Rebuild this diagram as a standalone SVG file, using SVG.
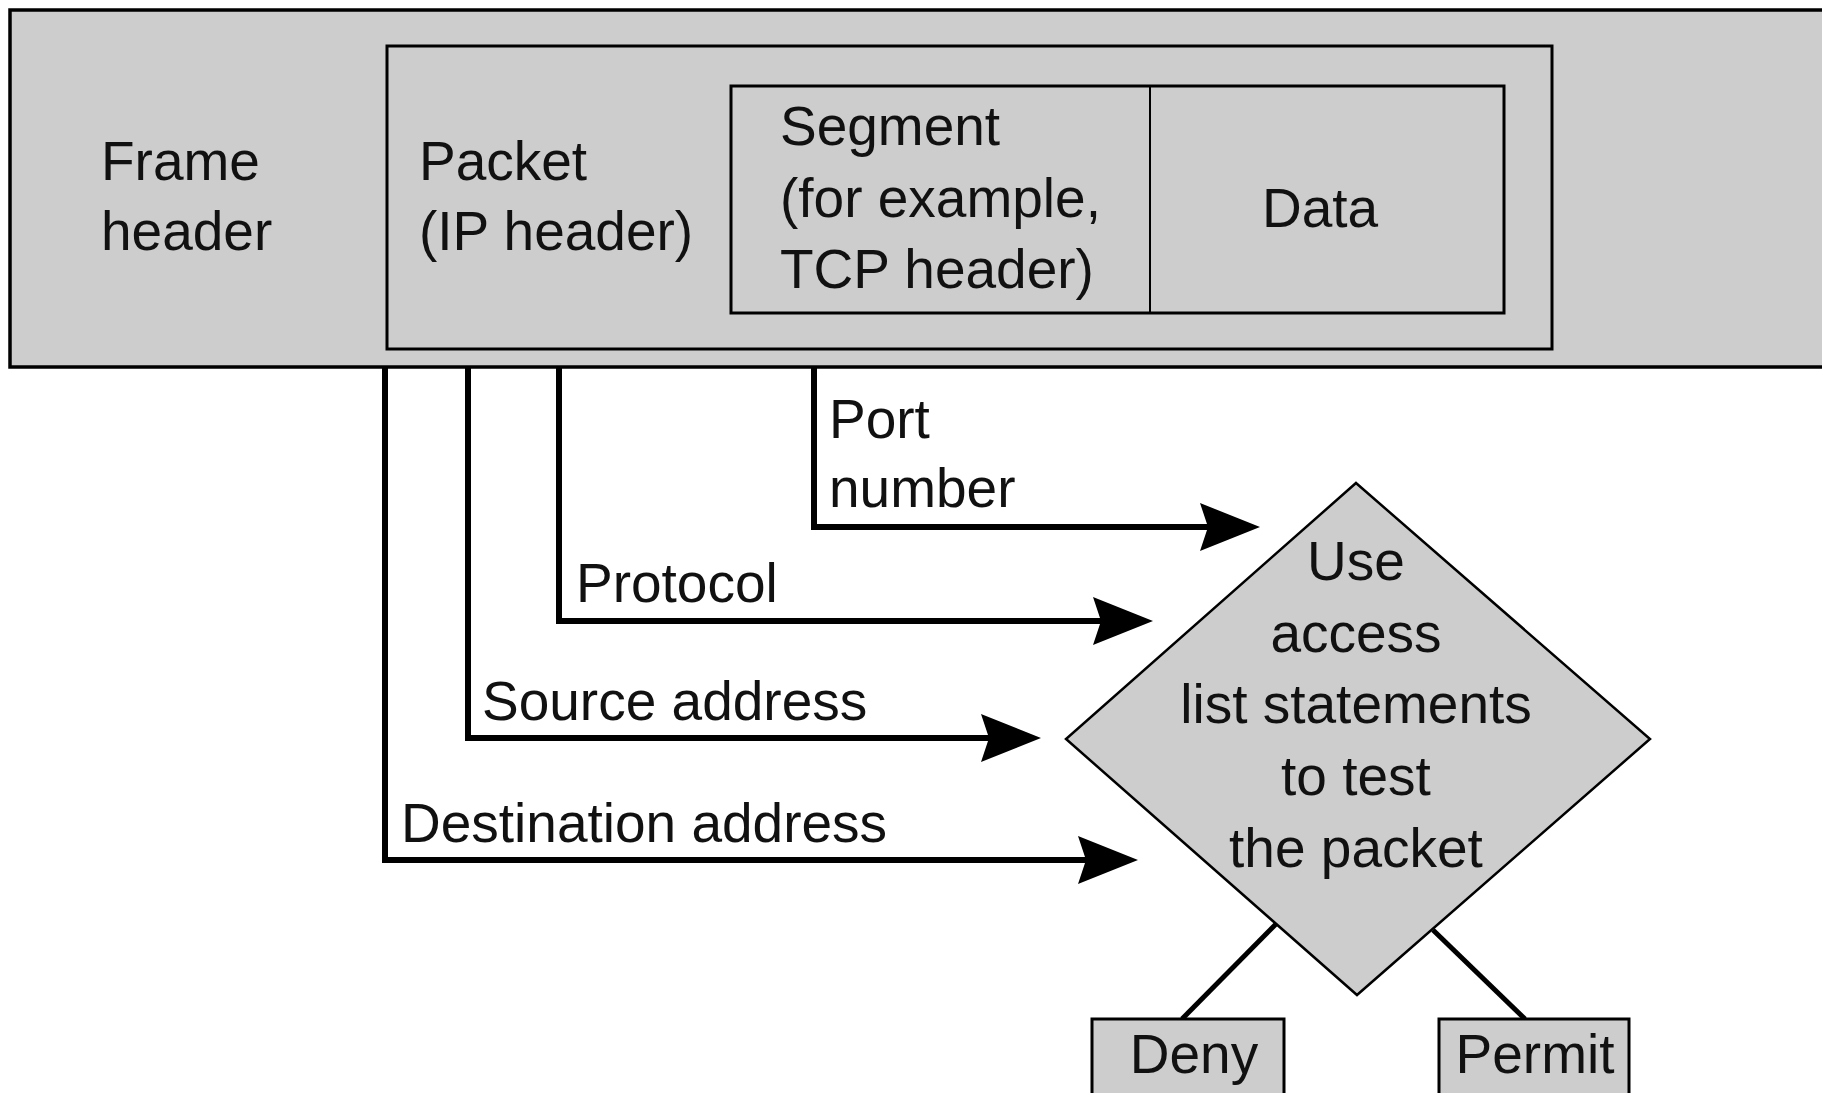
<svg xmlns="http://www.w3.org/2000/svg" width="1822" height="1093" viewBox="0 0 1822 1093">
<defs>
<style>
.t{font-family:"Liberation Sans",Arial,sans-serif;font-size:55px;fill:#111}
.box{fill:#cdcdcd;stroke:#000;stroke-width:3}
.conn{fill:none;stroke:#000;stroke-width:6;stroke-linejoin:miter}
.branch{fill:none;stroke:#000;stroke-width:5}
</style>
<marker id="arr" markerUnits="userSpaceOnUse" viewBox="0 0 60 48" refX="30" refY="24" markerWidth="60" markerHeight="48" orient="auto">
<path d="M0,0 L60,24 L0,48 L8,24 Z" fill="#000"/>
</marker>
</defs>
<rect width="1822" height="1093" fill="#fff"/>
<g id="frame">
<rect x="10" y="10" width="1830" height="357" fill="#cdcdcd" stroke="#000" stroke-width="3.5"/>
<text class="t" x="101" y="180">Frame</text>
<text class="t" x="101" y="250">header</text>
</g>
<g id="packet">
<rect x="387" y="46" width="1165" height="303" fill="none" stroke="#000" stroke-width="3"/>
<text class="t" x="419" y="180">Packet</text>
<text class="t" x="419" y="250">(IP header)</text>
</g>
<g id="segment">
<rect x="731" y="86" width="773" height="227" fill="none" stroke="#000" stroke-width="3"/>
<text class="t" x="780" y="145">Segment</text>
<text class="t" x="780" y="217">(for example,</text>
<text class="t" x="780" y="288">TCP header)</text>
</g>
<g id="data">
<line x1="1150" y1="86" x2="1150" y2="313" stroke="#000" stroke-width="2"/>
<text class="t" x="1320" y="227" text-anchor="middle">Data</text>
</g>
<g id="connectors">
<polyline class="conn" points="814,368 814,527 1230,527" marker-end="url(#arr)"/>
<polyline class="conn" points="559,368 559,621 1123,621" marker-end="url(#arr)"/>
<polyline class="conn" points="468,368 468,738 1011,738" marker-end="url(#arr)"/>
<polyline class="conn" points="385,368 385,860 1108,860" marker-end="url(#arr)"/>
<line class="branch" x1="1276" y1="924" x2="1182" y2="1019"/>
<line class="branch" x1="1433" y1="930" x2="1525" y2="1019"/>
<text class="t" x="829" y="438">Port</text>
<text class="t" x="829" y="507">number</text>
<text class="t" x="576" y="602">Protocol</text>
<text class="t" x="482" y="720">Source address</text>
<text class="t" x="401" y="842">Destination address</text>
</g>
<g id="decision">
<polygon points="1356,483 1650,739 1357,995 1066,739" fill="#cdcdcd" stroke="#000" stroke-width="2.5"/>
<text class="t" x="1356" y="580" text-anchor="middle">Use</text>
<text class="t" x="1356" y="652" text-anchor="middle">access</text>
<text class="t" x="1356" y="723" text-anchor="middle">list statements</text>
<text class="t" x="1356" y="795" text-anchor="middle">to test</text>
<text class="t" x="1356" y="867" text-anchor="middle">the packet</text>
</g>
<g id="deny">
<rect class="box" x="1092" y="1019" width="192" height="100"/>
<text class="t" x="1194" y="1073" text-anchor="middle">Deny</text>
</g>
<g id="permit">
<rect class="box" x="1439" y="1019" width="190" height="100"/>
<text class="t" x="1535" y="1073" text-anchor="middle">Permit</text>
</g>
</svg>
